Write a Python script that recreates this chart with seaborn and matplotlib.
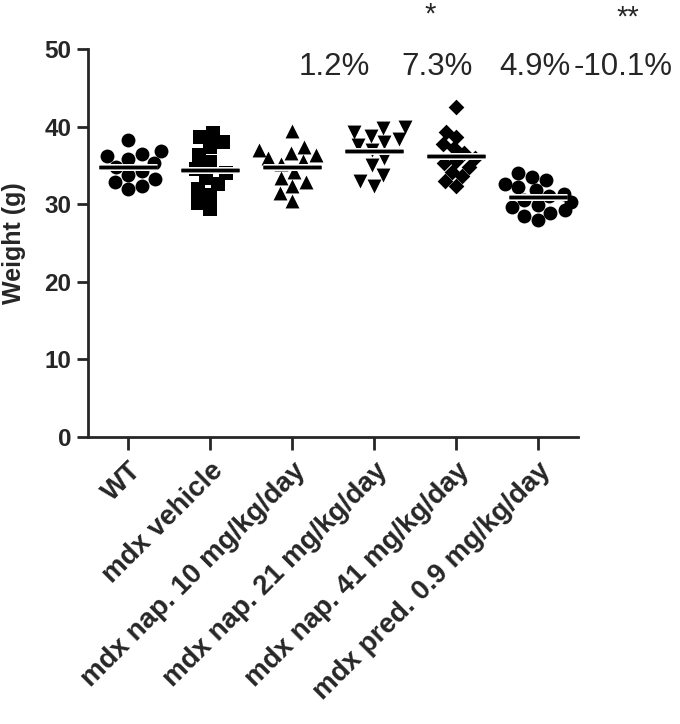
import matplotlib
matplotlib.use("Agg")
import matplotlib.pyplot as plt
import matplotlib.patheffects as pe
import numpy as np
import pandas as pd
import seaborn as sns

# group names (x categories)
groups = ["WT", "mdx vehicle", "mdx nap. 10 mg/kg/day", "mdx nap. 21 mg/kg/day",
          "mdx nap. 41 mg/kg/day", "mdx pred. 0.9 mg/kg/day"]

# body weights (g)
wt = [38.3, 36.8, 36.5, 36.2, 35.8, 35.3, 34.8, 34.3, 33.8, 33.3, 32.8, 32.4, 32.0]
vehicle = [39.2, 38.6, 38.0, 37.4, 36.4, 35.4, 34.6, 34.0, 33.4, 32.6, 32.0, 31.2, 30.2, 29.4]
nap10 = [39.4, 37.4, 37.0, 36.6, 36.3, 36.0, 35.6, 35.2, 34.2, 33.4, 32.8, 32.3, 31.4, 30.4]
nap21 = [40.0, 39.8, 39.3, 38.8, 38.4, 38.0, 37.6, 37.0, 36.0, 35.0, 33.8, 33.0, 32.4]
nap41 = [42.5, 39.3, 38.6, 37.8, 37.2, 36.6, 36.0, 35.6, 35.3, 34.8, 34.2, 33.6, 33.0, 32.4]
pred = [34.0, 33.5, 33.1, 32.6, 32.2, 31.8, 31.3, 31.0, 30.6, 30.3, 29.9, 29.6, 29.2,
        28.9, 28.5, 28.0]

# change vs vehicle and significance marks (text placed as in the figure)
pct_labels = ["1.2%", "7.3%", "4.9%", "-10.1%"]
pct_x = [2.52, 3.77, 4.96, 6.04]
star_labels = ["*", "**"]
star_x = [3.68, 6.1]
star_y = [53.4, 53.0]

markers = ["o", "s", "^", "v", "D", "o"]
msizes = [10, 9.5, 10, 10, 8, 10]

df = pd.concat([
    pd.DataFrame({"group": g, "weight": w})
    for g, w in zip(groups, [wt, vehicle, nap10, nap21, nap41, pred])
], ignore_index=True)

sns.set_style("ticks")
plt.rcParams["font.family"] = ["Liberation Sans", "DejaVu Sans"]

fig = plt.figure(figsize=(6.8, 7.24), dpi=100)
ax = fig.add_axes([88 / 680, 1 - 437 / 724, 490 / 680, 388 / 724])

for g, m, ms in zip(groups, markers, msizes):
    sns.swarmplot(data=df[df["group"] == g], x="group", y="weight", order=groups,
                  marker=m, size=ms, color="black", linewidth=0, ax=ax)

# mean lines
means = df.groupby("group", sort=False)["weight"].mean().reindex(groups)
pos = np.arange(len(groups))
ax.hlines(means.values, pos - 0.35, pos + 0.35, color="black", lw=2.5, zorder=5,
          path_effects=[pe.withStroke(linewidth=5, foreground="white"), pe.Normal()])

# percentage change and stars above the groups
for x, p in zip(pct_x, pct_labels):
    ax.text(x, 46.6, p, ha="center", va="baseline", fontsize=22.5, clip_on=False)
for x, s, y in zip(star_x, star_labels, star_y):
    ax.text(x, y, s, ha="center", va="baseline", fontsize=21, clip_on=False)

ax.set_xlim(-0.49, 5.49)
ax.set_ylim(0, 50)
ax.set_yticks([0, 10, 20, 30, 40, 50])
ax.set_xlabel("")
ax.set_ylabel("Weight (g)", fontsize=18, fontweight="bold")
ax.yaxis.set_label_coords(-0.127, 0.5)

ax.set_xticks(pos)
ax.set_xticklabels(groups, rotation=45, ha="right", rotation_mode="anchor",
                   fontsize=20, fontweight="bold")
for lab in ax.get_yticklabels():
    lab.set_fontweight("bold")
    lab.set_fontsize(17.5)

sns.despine(ax=ax)
for side in ["left", "bottom"]:
    ax.spines[side].set_linewidth(2)
ax.tick_params(axis="y", length=8, width=2, pad=4)
ax.tick_params(axis="x", length=9, width=2, pad=6)

fig.savefig("out.png", dpi=100)
